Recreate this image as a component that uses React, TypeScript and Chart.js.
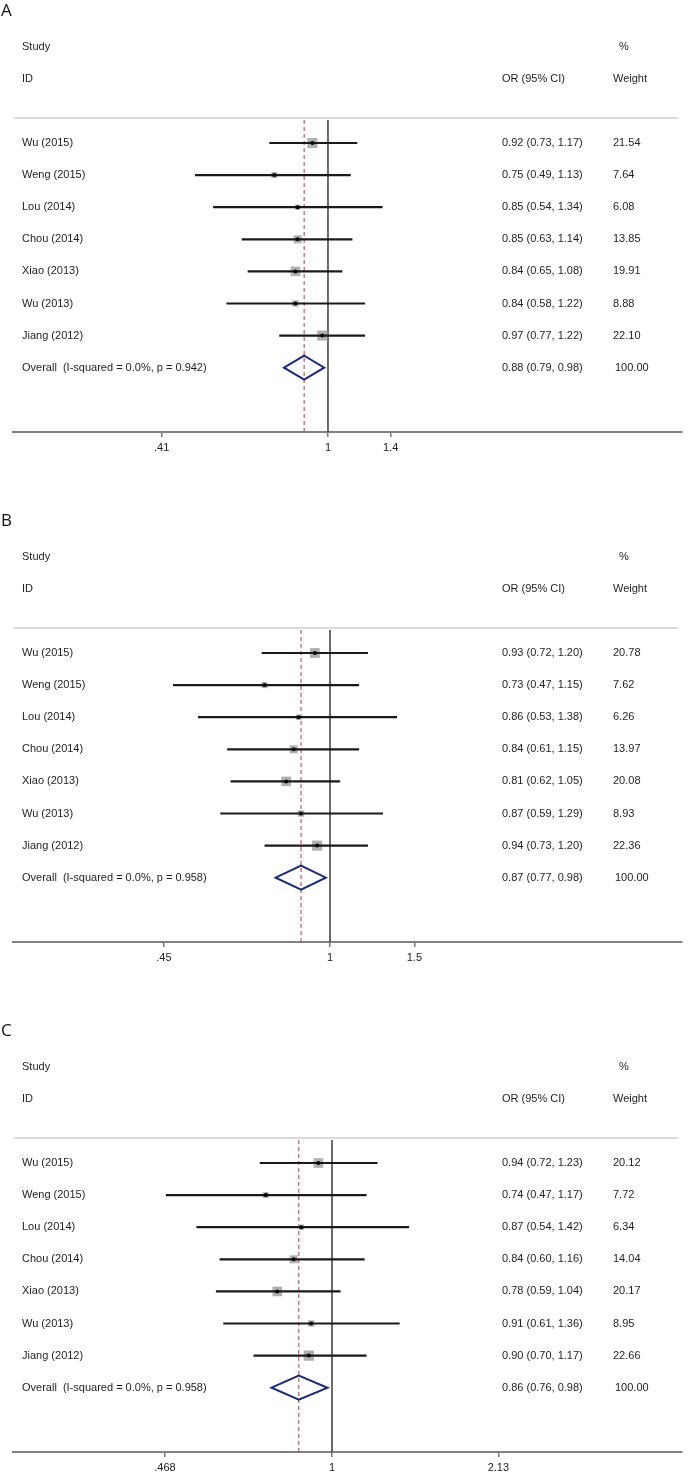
import React, { useEffect, useRef } from "react";
import { Chart, registerables } from "chart.js";
Chart.register(...registerables);

// ---------- data ----------
const studies = ["Wu (2015)", "Weng (2015)", "Lou (2014)", "Chou (2014)", "Xiao (2013)", "Wu (2013)", "Jiang (2012)"];

// Panel A
const orA = [0.92, 0.75, 0.85, 0.85, 0.84, 0.84, 0.97];
const lowA = [0.73, 0.49, 0.54, 0.63, 0.65, 0.58, 0.77];
const highA = [1.17, 1.13, 1.34, 1.14, 1.08, 1.22, 1.22];
const weightA = [21.54, 7.64, 6.08, 13.85, 19.91, 8.88, 22.10];
const overallA = [0.88, 0.79, 0.98];
const pA = "0.942";
const tickValsA = [0.41, 1, 1.4];
const tickLabelsA = [".41", "1", "1.4"];

// Panel B
const orB = [0.93, 0.73, 0.86, 0.84, 0.81, 0.87, 0.94];
const lowB = [0.72, 0.47, 0.53, 0.61, 0.62, 0.59, 0.73];
const highB = [1.20, 1.15, 1.38, 1.15, 1.05, 1.29, 1.20];
const weightB = [20.78, 7.62, 6.26, 13.97, 20.08, 8.93, 22.36];
const overallB = [0.87, 0.77, 0.98];
const pB = "0.958";
const tickValsB = [0.45, 1, 1.5];
const tickLabelsB = [".45", "1", "1.5"];

// Panel C
const orC = [0.94, 0.74, 0.87, 0.84, 0.78, 0.91, 0.90];
const lowC = [0.72, 0.47, 0.54, 0.60, 0.59, 0.61, 0.70];
const highC = [1.23, 1.17, 1.42, 1.16, 1.04, 1.36, 1.17];
const weightC = [20.12, 7.72, 6.34, 14.04, 20.17, 8.95, 22.66];
const overallC = [0.86, 0.76, 0.98];
const pC = "0.958";
const tickValsC = [0.468, 1, 2.13];
const tickLabelsC = [".468", "1", "2.13"];

// ---------- layout constants ----------
const Y_MIN = -0.7165;
const Y_MAX = 9.003;
const DIAMOND_HALF = 0.374;
const SQUARE_K = 2.15;
const FONT = "'Liberation Sans', Arial, sans-serif";

type Panel = {
  letter: string;
  or: number[];
  low: number[];
  high: number[];
  weight: number[];
  overall: number[];
  p: string;
  tickVals: number[];
  tickLabels: string[];
  xMin: number;
  xMax: number;
};

const panels: Panel[] = [
  { letter: "A", or: orA, low: lowA, high: highA, weight: weightA, overall: overallA, p: pA, tickVals: tickValsA, tickLabels: tickLabelsA, xMin: 0.1847, xMax: 6.675 },
  { letter: "B", or: orB, low: lowB, high: highB, weight: weightB, overall: overallB, p: pB, tickVals: tickValsB, tickLabels: tickLabelsB, xMin: 0.2178, xMax: 5.432 },
  { letter: "C", or: orC, low: lowC, high: highC, weight: weightC, overall: overallC, p: pC, tickVals: tickValsC, tickLabels: tickLabelsC, xMin: 0.2346, xMax: 4.908 },
];

const fmt = (v: number) => v.toFixed(2);

const textPlugin = {
  id: "forestText",
  afterDraw(chart: any, _args: any, opts: any) {
    const p: Panel = opts.panel;
    const { ctx } = chart;
    const ys = chart.scales.y;
    const py = (i: number) => ys.getPixelForValue(i);
    ctx.save();
    ctx.textBaseline = "middle";
    ctx.textAlign = "left";
    // panel letter
    ctx.fillStyle = "#111";
    ctx.font = "17px 'Open Sans', 'Liberation Sans', sans-serif";
    ctx.fillText(p.letter, 1, 11);
    // header
    ctx.fillStyle = "#1e1e1e";
    ctx.font = `11px ${FONT}`;
    ctx.fillText("Study", 22, py(-3));
    ctx.fillText("ID", 22, py(-2));
    ctx.fillText("%", 619, py(-3));
    ctx.fillText("Weight", 613, py(-2));
    ctx.fillText("OR (95% CI)", 502, py(-2));
    // header rule
    ctx.strokeStyle = "#dadada";
    ctx.lineWidth = 2;
    ctx.beginPath();
    ctx.moveTo(14, py(-0.78));
    ctx.lineTo(678, py(-0.78));
    ctx.stroke();
    // rows
    studies.forEach((s, i) => {
      ctx.fillText(s, 22, py(i));
      ctx.fillText(`${fmt(p.or[i])} (${fmt(p.low[i])}, ${fmt(p.high[i])})`, 502, py(i));
      ctx.fillText(fmt(p.weight[i]), 613, py(i));
    });
    const oi = studies.length;
    ctx.fillText(`Overall  (I-squared = 0.0%, p = ${p.p})`, 22, py(oi));
    ctx.fillText(`${fmt(p.overall[0])} (${fmt(p.overall[1])}, ${fmt(p.overall[2])})`, 502, py(oi));
    ctx.fillText("100.00", 615, py(oi));
    ctx.restore();
  },
};

function ForestPanel({ panel }: { panel: Panel }) {
  const ref = useRef<HTMLCanvasElement>(null);
  useEffect(() => {
    const canvas = ref.current;
    if (!canvas) return;
    const datasets: any[] = [];
    // null line at 1
    datasets.push({
      data: [{ x: 1, y: Y_MIN }, { x: 1, y: Y_MAX }],
      showLine: true, borderColor: "#3c3c3c", borderWidth: 1.5, pointRadius: 0, order: 20,
    });
    // overall dashed line
    datasets.push({
      data: [{ x: panel.overall[0], y: Y_MIN }, { x: panel.overall[0], y: Y_MAX }],
      showLine: true, borderColor: "#b03a48", borderWidth: 1, borderDash: [4, 3], pointRadius: 0, order: 19,
    });
    // weight squares
    datasets.push({
      data: panel.or.map((v, i) => ({ x: v, y: i })),
      pointStyle: "rect",
      pointRadius: panel.weight.map((w) => (SQUARE_K * Math.sqrt(w)) / Math.SQRT2),
      backgroundColor: "#b0b0b0", borderWidth: 0, order: 10,
    });
    // CI lines
    panel.or.forEach((_, i) => {
      datasets.push({
        data: [{ x: panel.low[i], y: i }, { x: panel.high[i], y: i }],
        showLine: true, borderColor: "#1a1a1a", borderWidth: 2.2, pointRadius: 0, order: 5,
      });
    });
    // point estimates
    datasets.push({
      data: panel.or.map((v, i) => ({ x: v, y: i })),
      pointStyle: "circle", pointRadius: 2, backgroundColor: "#000", borderWidth: 0, order: 3,
    });
    // overall diamond
    const oy = panel.or.length;
    const [est, lo, hi] = panel.overall;
    datasets.push({
      data: [
        { x: lo, y: oy }, { x: est, y: oy - DIAMOND_HALF }, { x: hi, y: oy },
        { x: est, y: oy + DIAMOND_HALF }, { x: lo, y: oy }, { x: est, y: oy - DIAMOND_HALF },
      ],
      showLine: true, borderColor: "#1c2a7c", borderWidth: 2, pointRadius: 0, order: 2,
      borderJoinStyle: "miter",
    });

    const chart = new Chart(canvas, {
      type: "scatter",
      data: { datasets },
      options: {
        animation: false,
        responsive: false,
        devicePixelRatio: 1,
        events: [],
        layout: { padding: { top: 120, left: 13, right: 18, bottom: 38 } },
        plugins: {
          legend: { display: false },
          tooltip: { enabled: false },
          forestText: { panel },
        } as any,
        scales: {
          x: {
            type: "logarithmic",
            position: "bottom",
            min: panel.xMin,
            max: panel.xMax,
            bounds: "data",
            afterBuildTicks: (s: any) => {
              s.ticks = panel.tickVals.map((v) => ({ value: v }));
            },
            afterFit: (s: any) => {
              s.height = 30;
            },
            grid: { display: true, drawOnChartArea: false, drawTicks: true, tickLength: 5, color: "#7a7a7a", lineWidth: 1.5 },
            border: { display: true, color: "#808080", width: 2 },
            ticks: {
              autoSkip: false,
              maxRotation: 0,
              minRotation: 0,
              padding: 4,
              color: "#222",
              font: { size: 11, family: FONT },
              callback: (_v: any, i: number) => panel.tickLabels[i],
            },
          } as any,
          y: {
            type: "linear",
            display: false,
            reverse: true,
            min: Y_MIN,
            max: Y_MAX,
            bounds: "data",
          },
        },
      },
      plugins: [textPlugin as any],
    });
    return () => chart.destroy();
  }, [panel]);
  return <canvas ref={ref} width={700} height={500} style={{ display: "block" }} />;
}

export default function App() {
  return (
    <div style={{ position: "absolute", left: 0, top: 0, width: 700, height: 1473, overflow: "hidden", background: "#fff" }}>
      {panels.map((p, k) => (
        <div key={p.letter} style={{ position: "absolute", left: 0, top: k * 510, width: 700, height: 500 }}>
          <ForestPanel panel={p} />
        </div>
      ))}
    </div>
  );
}
